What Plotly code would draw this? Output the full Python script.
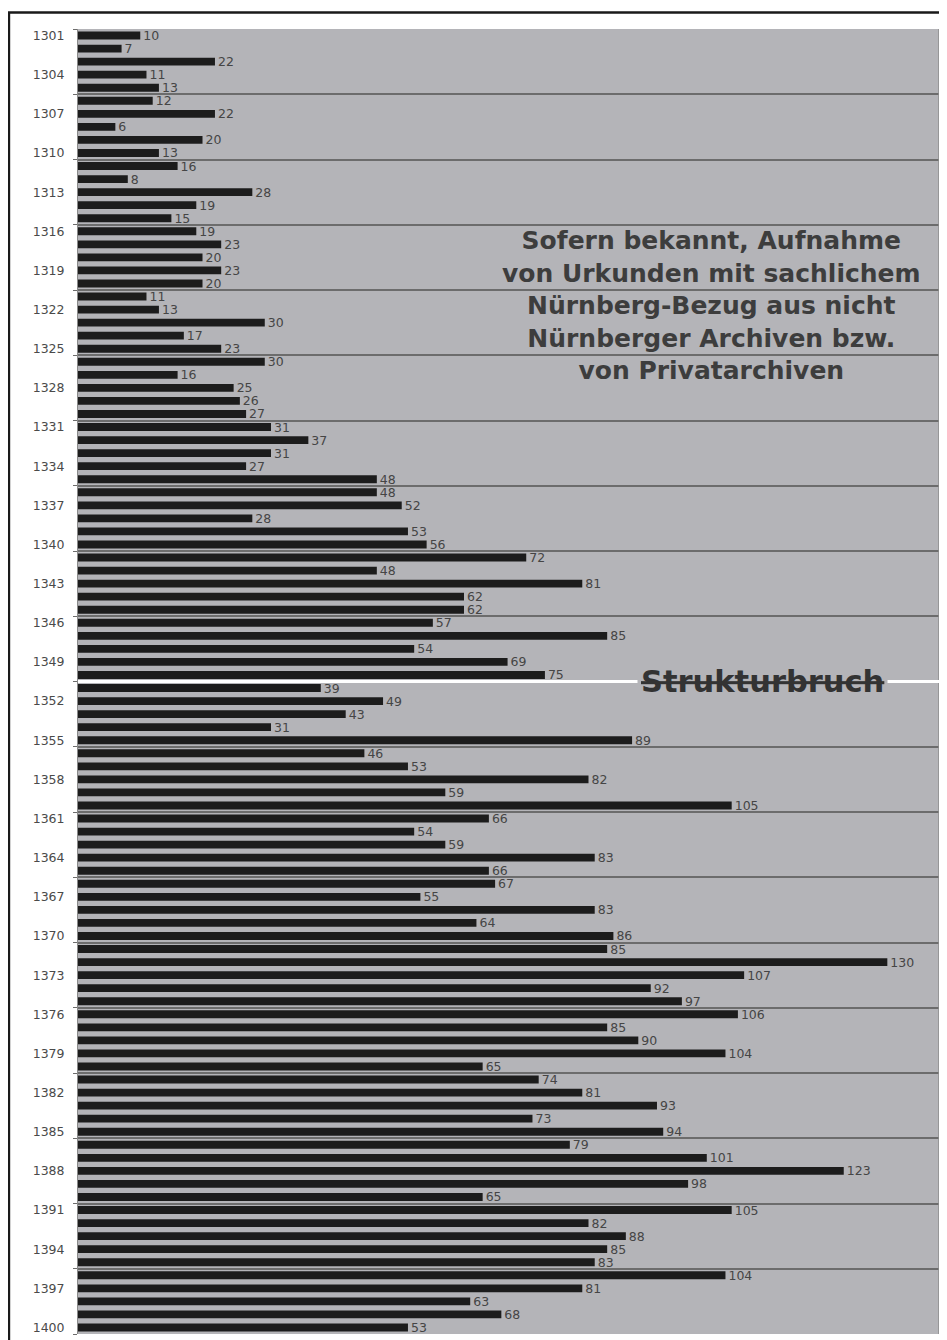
import plotly.graph_objects as go

years = list(range(1301, 1401))
counts = [
    10, 7, 22, 11, 13, 12, 22, 6, 20, 13,
    16, 8, 28, 19, 15, 19, 23, 20, 23, 20,
    11, 13, 30, 17, 23, 30, 16, 25, 26, 27,
    31, 37, 31, 27, 48, 48, 52, 28, 53, 56,
    72, 48, 81, 62, 62, 57, 85, 54, 69, 75,
    39, 49, 43, 31, 89, 46, 53, 82, 59, 105,
    66, 54, 59, 83, 66, 67, 55, 83, 64, 86,
    85, 130, 107, 92, 97, 106, 85, 90, 104, 65,
    74, 81, 93, 73, 94, 79, 101, 123, 98, 65,
    105, 82, 88, 85, 83, 104, 81, 63, 68, 53,
]
tick_years = list(range(1301, 1401, 3))
tick_labels = [str(y) for y in tick_years]
break_year = 1350.5
note_text = ("Sofern bekannt, Aufnahme<br>von Urkunden mit sachlichem<br>"
             "Nürnberg-Bezug aus nicht<br>Nürnberger Archiven bzw.<br>von Privatarchiven")
break_text = "Strukturbruch"

PLOT_BG = "#b4b4b8"
FONT = "DejaVu Sans"

fig = go.Figure()
fig.add_trace(go.Bar(
    x=counts, y=years, orientation="h",
    width=0.6,
    marker=dict(color="#1c1c1c", line=dict(width=0)),
    text=[str(c) for c in counts],
    textposition="outside",
    textfont=dict(family=FONT, size=12.5, color="#454545"),
    constraintext="none",
    cliponaxis=False,
    hoverinfo="x+y",
))

fig.update_layout(
    width=939, height=1332,
    margin=dict(l=70, r=8, t=21, b=6),
    paper_bgcolor="white",
    plot_bgcolor=PLOT_BG,
    showlegend=False,
    bargap=0.4,
    xaxis=dict(range=[0, 138.3], visible=False, showgrid=False, zeroline=False, fixedrange=True),
    yaxis=dict(
        range=[1400.5, 1300.5],
        tickmode="array", tickvals=tick_years, ticktext=tick_labels,
        tickfont=dict(family=FONT, size=12.5, color="#4a4a4a"),
        ticks="", showgrid=False, zeroline=False,
        showline=True, linecolor="#8a8a8a", linewidth=1,
        ticklabelstandoff=10,
        minor=dict(tick0=1300.5, dtick=5, showgrid=True, gridcolor="#6c6c6c", gridwidth=2,
                   ticks="outside", ticklen=4, tickcolor="#6c6c6c", tickwidth=1),
    ),
)

# outer black frame
fig.add_shape(type="rect", xref="paper", yref="paper",
              x0=-0.0802, x1=1.05, y0=-0.05, y1=1.0126,
              line=dict(color="#1a1a1a", width=2.5), fillcolor="rgba(0,0,0,0)", layer="above")
# right plot edge
fig.add_shape(type="line", xref="paper", yref="paper", x0=1, x1=1, y0=0, y1=1,
              line=dict(color="#8c8c8c", width=1.5), layer="above")
# structural break line
fig.add_shape(type="line", xref="paper", yref="y", x0=0, x1=1, y0=break_year, y1=break_year,
              line=dict(color="white", width=3), layer="above")

fig.add_annotation(x=109.9, y=break_year, xref="x", yref="y",
                   text="<s><b>" + break_text + "</b></s>", showarrow=False,
                   font=dict(family=FONT, size=30.5, color="#333333"),
                   bgcolor=PLOT_BG, borderpad=3, xanchor="center", yanchor="middle")

fig.add_annotation(x=101.7, y=1321.7, xref="x", yref="y",
                   text="<b>" + note_text + "</b>", showarrow=False, align="center",
                   font=dict(family=FONT, size=25, color="#3d3d3d"),
                   xanchor="center", yanchor="middle")

fig.write_html("out.html")
